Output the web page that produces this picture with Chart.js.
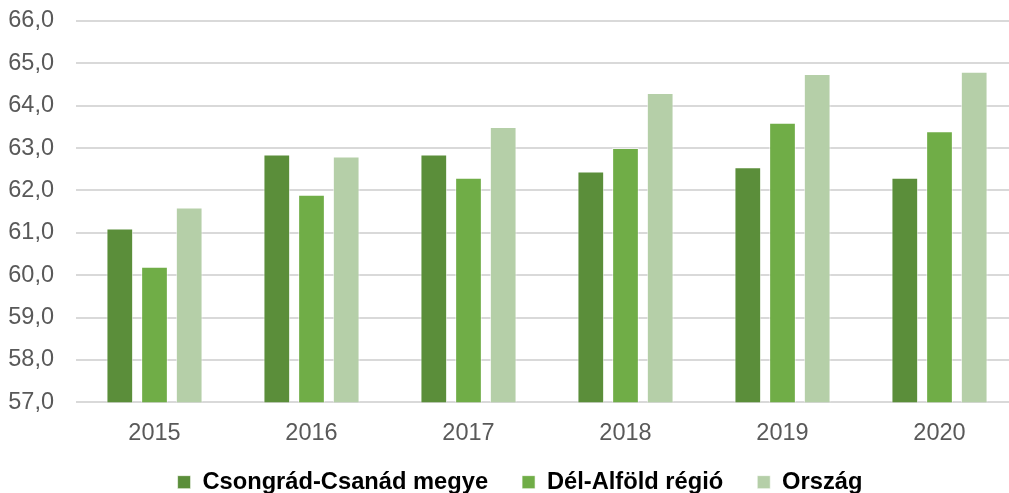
<!DOCTYPE html>
<html>
<head>
<meta charset="utf-8">
<script src="https://cdn.jsdelivr.net/npm/chart.js@4/dist/chart.umd.min.js"></script>
<style>
    html, body { margin: 0; padding: 0; background: #fff; overflow: hidden; }
    #wrap { width: 1018px; height: 504px; position: relative; }
</style>
</head>
<body>
<div id="wrap"><canvas id="empChart"></canvas></div>
<script>
const years = ['2015', '2016', '2017', '2018', '2019', '2020'];
const seriesNames = ['Csongrád-Csanád megye', 'Dél-Alföld régió', 'Ország'];
const countyValues = [61.1, 62.85, 62.85, 62.45, 62.55, 62.3];
const regionValues = [60.2, 61.9, 62.3, 63.0, 63.6, 63.4];
const countryValues = [61.6, 62.8, 63.5, 64.3, 64.75, 64.8];
const yTicks = [57, 58, 59, 60, 61, 62, 63, 64, 65, 66];

const colors = ['#5b8e3a', '#70ad47', '#b5cfa8'];

// small layout fixes after chart.js has placed the boxes
const layoutTweaks = {
    id: 'layoutTweaks',
    afterLayout(chart) {
        chart.legend.left += 7;
        chart.legend.right += 7;
        // year labels hang below the (squeezed) x axis box, don't clip them
        chart.scales.x.bottom += 40;
    }
};

function makeDataset(label, data, color) {
    return {
        label: label,
        data: data,
        backgroundColor: color,
        borderColor: 'rgba(255, 255, 255, 0.6)',
        borderWidth: 1,
        categoryPercentage: 0.663,
        barPercentage: 0.77
    };
}

document.addEventListener('DOMContentLoaded', function() {
    const ctx = document.getElementById('empChart').getContext('2d');

    new Chart(ctx, {
        type: 'bar',
        data: {
            labels: years,
            datasets: [
                makeDataset(seriesNames[0], countyValues, colors[0]),
                makeDataset(seriesNames[1], regionValues, colors[1]),
                makeDataset(seriesNames[2], countryValues, colors[2])
            ]
        },
        options: {
            responsive: true,
            maintainAspectRatio: false,
            animation: false,
            layout: {
                padding: { top: 21, left: 8, right: 0, bottom: 0 }
            },
            plugins: {
                tooltip: { enabled: false },
                legend: {
                    position: 'bottom',
                    labels: {
                        boxWidth: 13,
                        boxHeight: 13,
                        padding: 34,
                        color: '#000000',
                        font: { family: '"Liberation Sans", Arial, sans-serif', size: 23.7, weight: 'bold' }
                    }
                }
            },
            scales: {
                x: {
                    grid: { display: false },
                    border: { display: false },
                    ticks: {
                        padding: 9,
                        color: '#595959',
                        font: { family: '"Liberation Sans", Arial, sans-serif', size: 23.5 }
                    },
                    afterFit: function(scale) {
                        scale.height = 34;
                    }
                },
                y: {
                    min: yTicks[0],
                    max: yTicks[yTicks.length - 1],
                    afterBuildTicks: function(scale) {
                        scale.ticks = yTicks.map(v => ({ value: v }));
                    },
                    afterFit: function(scale) {
                        scale.width = 68;
                        scale.paddingTop = 0;
                    },
                    grid: {
                        color: '#d9d9d9',
                        lineWidth: 2,
                        drawTicks: false
                    },
                    border: { display: false },
                    ticks: {
                        padding: 22,
                        color: '#595959',
                        font: { family: '"Liberation Sans", Arial, sans-serif', size: 23.5 },
                        callback: function(value) {
                            return value.toFixed(1).replace('.', ',');
                        }
                    }
                }
            }
        },
        plugins: [layoutTweaks]
    });
});
</script>
</body>
</html>
